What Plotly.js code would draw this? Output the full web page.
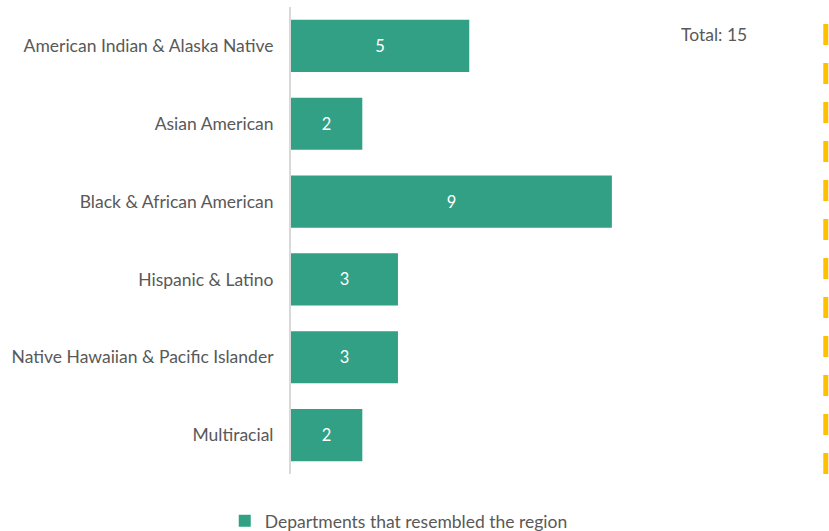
<!DOCTYPE html>
<html>
<head>
<meta charset="utf-8">
<script src="https://cdn.plot.ly/plotly-3.0.1.min.js"></script>
<style>html,body{margin:0;padding:0;background:#fff;}#chart{width:829px;height:531px;}</style>
</head>
<body>
<div id="chart"></div>
<script>
const categories = ["American Indian & Alaska Native", "Asian American", "Black & African American", "Hispanic & Latino", "Native Hawaiian & Pacific Islander", "Multiracial"];
const values = [5, 2, 9, 3, 3, 2];
const seriesName = "Departments that resembled the region";
const total = 15;
const totalLabel = "Total: " + total;

const FONT = "Lato, 'Open Sans', sans-serif";
const trace = {
  type: "bar",
  orientation: "h",
  y: categories,
  x: values,
  name: seriesName,
  marker: {color: "#31A085"},
  text: values.map(String),
  textposition: "inside",
  insidetextanchor: "middle",
  textfont: {color: "#ffffff", size: 16.5, family: FONT},
  hoverinfo: "none",
  showlegend: true
};
const layout = {
  width: 829, height: 531,
  margin: {l: 291, r: 0, t: 7, b: 57},
  paper_bgcolor: "#ffffff", plot_bgcolor: "#ffffff",
  font: {family: FONT, color: "#595959", size: 17.5},
  bargap: 0.33,
  xaxis: {range: [0, 15.09], showgrid: false, zeroline: false, showticklabels: false, showline: false, fixedrange: true},
  yaxis: {autorange: "reversed", showgrid: false, zeroline: false, showline: true, linecolor: "#d9d9d9", linewidth: 2,
          ticks: "", ticklabelstandoff: 12, tickfont: {size: 17.5, color: "#595959", family: FONT}},
  showlegend: true,
  legend: {orientation: "h", xref: "container", yref: "container", x: 0.481, y: 0.019, xanchor: "center", yanchor: "middle",
           font: {size: 17.5, color: "#595959", family: FONT}},
  shapes: [{type: "line", xref: "x", yref: "paper", x0: total, x1: total, y0: 0, y1: 0.966,
            line: {color: "#FFC000", width: 5, dash: "21px,18px"}}],
  annotations: [{xref: "paper", yref: "paper", x: 0.786, y: 0.942, text: totalLabel, showarrow: false,
                 xanchor: "center", yanchor: "middle", font: {size: 17.5, color: "#595959", family: FONT}}]
};
Plotly.newPlot("chart", [trace], layout, {displayModeBar: false, staticPlot: true});
</script>
</body>
</html>
